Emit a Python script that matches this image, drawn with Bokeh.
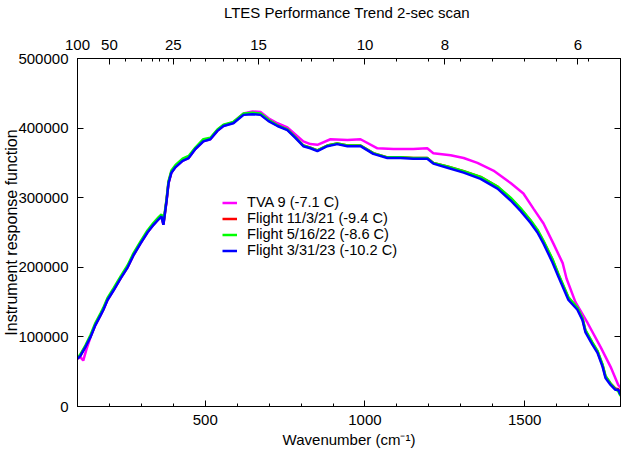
from bokeh.plotting import figure
from bokeh.models import Range1d, LinearAxis, FixedTicker, CustomJSTickFormatter, BasicTickFormatter
from bokeh.embed import file_html
from bokeh.resources import INLINE

# ---------------- data ----------------
WN = [100, 109, 125, 141, 156, 172, 181, 194,
      213, 235, 257, 275, 297, 319, 338, 354,
      363, 369, 379, 385, 394, 407, 429, 448,
      469, 494, 516, 538, 557, 588, 604, 620,
      648, 673, 698, 726, 757, 782, 807, 829,
      851, 882, 913, 945, 986, 1026, 1070, 1111,
      1151, 1195, 1214, 1258, 1309, 1362, 1415, 1456,
      1487, 1518, 1540, 1559, 1587, 1606, 1637, 1665,
      1681, 1690, 1712, 1728, 1744, 1753, 1769, 1784,
      1793, 1800]

FLIGHT_21 = [69000, 73500, 86500, 101000, 118000, 132000, 140000, 154000,
             168000, 185000, 201000, 218000, 235000, 251000, 262000, 270000,
             274000, 262000, 297000, 322000, 337000, 345000, 354000, 358000,
             371000, 382000, 385000, 397000, 404000, 408000, 414000, 420000,
             421000, 420000, 411000, 404000, 398000, 387000, 375000, 372000,
             368000, 375000, 378000, 375000, 375000, 364000, 358000, 358000,
             357000, 357000, 350000, 345000, 338000, 330000, 316000, 299000,
             284000, 267000, 253000, 237000, 211000, 189000, 156000, 141000,
             126000, 109000, 91000, 79000, 59000, 43000, 33000, 26000,
             25000, 18000]

FLIGHT_22 = [70000, 75000, 88000, 103000, 120000, 134000, 142000, 156000,
             170000, 187000, 203000, 220000, 237000, 253000, 264000, 272000,
             276000, 264000, 299000, 324000, 339000, 347000, 356000, 360000,
             372000, 384000, 386000, 398000, 405000, 409000, 415000, 421000,
             422000, 421000, 412000, 404000, 398000, 387000, 375000, 372000,
             368000, 375000, 378000, 375000, 375000, 364000, 358000, 358000,
             357000, 357000, 350000, 345000, 338000, 330000, 316000, 300000,
             285000, 268000, 254000, 238000, 212000, 190000, 157000, 142000,
             127000, 110000, 92000, 80000, 60000, 44000, 33000, 25000,
             22000, 15000]

FLIGHT_23 = [68600, 72900, 85700, 100000, 117000, 131000, 139000, 153000,
             167000, 184000, 200000, 217000, 234000, 250000, 261000, 269000,
             273000, 261000, 296000, 321000, 336000, 344000, 353000, 357000,
             370000, 381000, 384000, 396000, 403000, 407000, 413000, 419000,
             420000, 419000, 410000, 403000, 397000, 386000, 374000, 371000,
             367000, 374000, 377000, 374000, 374000, 363000, 357000, 357000,
             356000, 356000, 349000, 343000, 336000, 327000, 313000, 296000,
             281000, 264000, 250000, 234000, 207000, 186000, 153000, 139000,
             124000, 107000, 89000, 77000, 57000, 41000, 31000, 24000,
             24000, 17000]

TVA_WN = [100, 109, 118, 128, 141, 156, 172, 181,
          194, 213, 235, 257, 275, 297, 319, 338,
          354, 363, 369, 379, 385, 394, 407, 429,
          448, 469, 494, 516, 538, 557, 588, 604,
          620, 648, 673, 698, 726, 757, 782, 807,
          829, 851, 892, 945, 986, 1039, 1089, 1151,
          1195, 1214, 1268, 1309, 1352, 1402, 1456, 1496,
          1528, 1559, 1590, 1619, 1631, 1659, 1697, 1737,
          1769, 1793, 1800]

TVA = [68600, 71000, 66000, 82000, 100000, 117000, 131000, 139000,
       153000, 167000, 184000, 200000, 217000, 234000, 250000, 261000,
       269000, 273000, 261000, 296000, 321000, 336000, 344000, 353000,
       357000, 370000, 381000, 384000, 396000, 403000, 408000, 415000,
       421000, 424000, 423000, 414000, 407000, 401000, 391000, 381000,
       377000, 376000, 384000, 383000, 384000, 371000, 370000, 370000,
       371000, 364000, 361000, 357000, 350000, 339000, 321000, 306000,
       284000, 263000, 234000, 206000, 184000, 150000, 120000, 86000,
       57000, 31000, 27000]

SERIES_NAMES = ["TVA 9 (-7.1 C)", "Flight 11/3/21 (-9.4 C)",
                "Flight 5/16/22 (-8.6 C)", "Flight 3/31/23 (-10.2 C)"]
SERIES_COLORS = ["#ff00ff", "#ff0000", "#00ff00", "#0000ff"]

TITLE = "LTES Performance Trend  2-sec scan"
X_MAJOR = [500, 1000, 1500]
X_MINOR = [200, 300, 400, 500, 600, 700, 800, 900, 1000, 1100, 1200,
           1300, 1400, 1500, 1600, 1700]
Y_TICKS = [0, 100000, 200000, 300000, 400000, 500000]
TOP_LABELS_UM = [100, 50, 25, 15, 10, 8, 6]
TOP_MINOR_UM = [40, 30, 28, 26, 22, 18, 16, 12]

FONT = "Liberation Sans"

p = figure(width=621, height=450, output_backend="svg", toolbar_location=None,
           x_range=Range1d(100, 1800), y_range=Range1d(0, 500000),
           x_axis_location=None, y_axis_location=None,
           min_border_left=77, min_border_right=1, min_border_top=58,
           min_border_bottom=43)
p.background_fill_color = "white"
p.border_fill_color = "white"
p.outline_line_color = "black"
p.outline_line_alpha = 1.0
for g in p.grid:
    g.visible = False


def style(ax):
    ax.axis_line_color = "black"
    ax.major_tick_line_color = "black"
    ax.minor_tick_line_color = "black"
    ax.major_tick_in = 6
    ax.major_tick_out = 0
    ax.minor_tick_in = 3
    ax.minor_tick_out = 0
    ax.major_label_text_font = FONT
    ax.major_label_text_font_size = "15px"
    ax.major_label_text_color = "black"
    ax.axis_label_text_font = FONT
    ax.axis_label_text_font_size = "15px"
    ax.axis_label_text_font_style = "normal"
    ax.axis_label_text_color = "black"


bottom = LinearAxis(ticker=FixedTicker(ticks=X_MAJOR, minor_ticks=X_MINOR),
                    axis_label="Wavenumber (cm\u207b\u00b9)")
style(bottom)
bottom.major_label_standoff = 8
bottom.axis_label_standoff = 3
p.add_layout(bottom, "below")

# top axis: wavelength in micrometres; its label carries the chart title
top_major = [10000.0 / u for u in TOP_LABELS_UM]
top_minor = X_MINOR + [10000.0 / u for u in TOP_MINOR_UM]
top = LinearAxis(ticker=FixedTicker(ticks=top_major, minor_ticks=top_minor),
                 formatter=CustomJSTickFormatter(code="return String(Math.round(10000/tick));"),
                 axis_label=TITLE)
style(top)
top.major_label_standoff = 9
top.axis_label_standoff = 16
p.add_layout(top, "above")

left = LinearAxis(ticker=FixedTicker(ticks=Y_TICKS, minor_ticks=[]),
                  formatter=BasicTickFormatter(use_scientific=False),
                  axis_label="Instrument response function")
style(left)
left.axis_label_text_font_size = "16px"
left.major_label_standoff = 9
left.axis_label_standoff = -5
p.add_layout(left, "left")

right = LinearAxis(ticker=FixedTicker(ticks=Y_TICKS, minor_ticks=[]),
                   formatter=CustomJSTickFormatter(code="return '';"))
style(right)
right.major_label_text_font_size = "0px"
right.major_label_standoff = 0
p.add_layout(right, "right")

series = [(TVA_WN, TVA), (WN, FLIGHT_21), (WN, FLIGHT_22), (WN, FLIGHT_23)]
for (xs, ys), name, col in zip(series, SERIES_NAMES, SERIES_COLORS):
    p.line(xs, ys, line_color=col, line_width=2.5, legend_label=name)

lg = p.legend[0]
lg.location = (145, 148)
lg.border_line_alpha = 0
lg.background_fill_alpha = 0
lg.padding = 0
lg.margin = 0
lg.spacing = -2
lg.glyph_width = 15
lg.glyph_height = 15
lg.label_height = 15
lg.label_standoff = 10
lg.label_text_font = FONT
lg.label_text_font_size = "14.6px"
lg.label_text_line_height = 1.0
lg.label_text_color = "black"

open("out.html", "w").write(file_html(p, INLINE))
